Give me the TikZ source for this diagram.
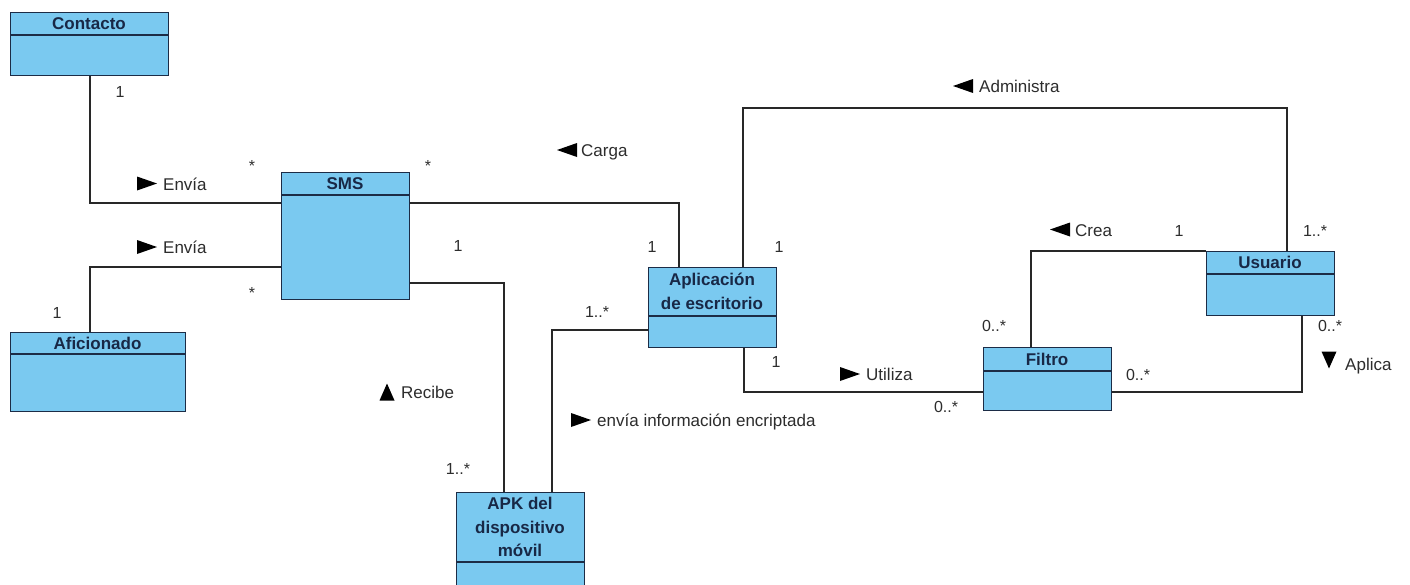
\documentclass[tikz,border=0pt]{standalone}
\usepackage{fontspec}
\setmainfont{Liberation Sans}
\usetikzlibrary{calc}

\definecolor{clsfill}{RGB}{122,201,240}
\definecolor{clsline}{RGB}{28,44,70}
\definecolor{clstext}{RGB}{24,40,70}
\definecolor{wire}{RGB}{40,40,40}
\definecolor{lbl}{RGB}{45,45,45}

\tikzset{
  cls/.style={draw=clsline, fill=clsfill, line width=1.3pt, inner sep=0pt, anchor=north west},
  sepline/.style={draw=clsline, line width=1.3pt},
  ttl/.style={text=clstext, font=\fontsize{17}{23.5}\selectfont\bfseries, align=center, inner sep=0pt},
  assoc/.style={draw=wire, line width=1.3pt},
  rolename/.style={text=lbl, font=\fontsize{17}{20}\selectfont, inner sep=0pt, anchor=base west},
  mult/.style={text=lbl, font=\fontsize{16}{18}\selectfont, inner sep=0pt},
  tri right/.pic={\fill[black] (0,-7) -- (20,0) -- (0,7) -- cycle;},
  tri left/.pic={\fill[black] (0,-7) -- (-20,0) -- (0,7) -- cycle;},
  tri up/.pic={\fill[black] (-7.5,8.5) -- (0,-8.5) -- (7.5,8.5) -- cycle;},
  tri down/.pic={\fill[black] (-7.5,-8.5) -- (0,8.5) -- (7.5,-8.5) -- cycle;},
}

\begin{document}
\begin{tikzpicture}[x=1pt, y=-1pt]
\clip (0,0) rectangle (1410,584);
\fill[white] (0,0) rectangle (1410,584);

% ---- classes ----
\node[cls, minimum width=158, minimum height=63] (contacto) at (10,12) {};
\draw[sepline] (contacto.west |- 0,35) -- (contacto.east |- 0,35);
\node[ttl] (contacto-t) at (89,23.5) {Contacto};

\node[cls, minimum width=175, minimum height=79] (aficionado) at (10,332) {};
\draw[sepline] (aficionado.west |- 0,354) -- (aficionado.east |- 0,354);
\node[ttl] (aficionado-t) at (97.5,343) {Aficionado};

\node[cls, minimum width=128, minimum height=127] (sms) at (281,172) {};
\draw[sepline] (sms.west |- 0,195) -- (sms.east |- 0,195);
\node[ttl] (sms-t) at (345,183.5) {SMS};

\node[cls, minimum width=128, minimum height=80] (aplic) at (648,267) {};
\draw[sepline] (aplic.west |- 0,316) -- (aplic.east |- 0,316);
\node[ttl] (aplic-t) at (712,291.5) {Aplicación\\de escritorio};

\node[cls, minimum width=128, minimum height=110] (apk) at (456,492) {};
\draw[sepline] (apk.west |- 0,562) -- (apk.east |- 0,562);
\node[ttl] (apk-t) at (520,527) {APK del\\dispositivo\\móvil};

\node[cls, minimum width=128, minimum height=63] (filtro) at (983,347) {};
\draw[sepline] (filtro.west |- 0,371) -- (filtro.east |- 0,371);
\node[ttl] (filtro-t) at (1047,359) {Filtro};

\node[cls, minimum width=128, minimum height=64] (usuario) at (1206,251) {};
\draw[sepline] (usuario.west |- 0,274) -- (usuario.east |- 0,274);
\node[ttl] (usuario-t) at (1270,262.5) {Usuario};

% ---- associations ----
\draw[assoc] (contacto.south -| 90,0) |- (sms.west |- 0,203);
\draw[assoc] (aficionado.north -| 90,0) |- (sms.west |- 0,267);
\draw[assoc] (sms.east |- 0,203) -| (aplic.north -| 679,0);
\draw[assoc] (sms.east |- 0,283) -| (apk.north -| 504,0);
\draw[assoc] (aplic.west |- 0,330) -| (apk.north -| 552,0);
\draw[assoc] (aplic.north -| 743,0) -- (743,108) -| (usuario.north -| 1287,0);
\draw[assoc] (aplic.south -| 744,0) |- (filtro.west |- 0,392);
\draw[assoc] (filtro.north -| 1031,0) |- (usuario.north west);
\draw[assoc] (filtro.east |- 0,392) -| (usuario.south -| 1302,0);

% ---- association names ----
\pic at (137,183.5) {tri right};
\node[rolename] (envia1) at (163,190) {Envía};
\pic at (137,247) {tri right};
\node[rolename] (envia2) at (163,253.5) {Envía};
\pic at (577,150) {tri left};
\node[rolename] (carga) at (581,156.5) {Carga};
\pic at (973,86) {tri left};
\node[rolename] (administra) at (979,92.5) {Administra};
\pic at (1070,229.5) {tri left};
\node[rolename] (crea) at (1075,236) {Crea};
\pic at (840,374) {tri right};
\node[rolename] (utiliza) at (866,380.5) {Utiliza};
\pic at (571,420) {tri right};
\node[rolename] (encriptada) at (597,426.5) {envía información encriptada};
\pic at (387,392) {tri up};
\node[rolename] (recibe) at (401,398) {Recibe};
\pic at (1329,360) {tri down};
\node[rolename] (aplica) at (1345,370) {Aplica};

% ---- multiplicities ----
\node[mult] (m1) at (120,92) {1};
\node[mult] (m2) at (252,166) {*};
\node[mult] (m3) at (57,313) {1};
\node[mult] (m4) at (252,293) {*};
\node[mult] (m5) at (428,166) {*};
\node[mult] (m6) at (458,246) {1};
\node[mult] (m7) at (652,247) {1};
\node[mult] (m8) at (779,247) {1};
\node[mult] (m9) at (597,312) {1..*};
\node[mult] (m10) at (458,469) {1..*};
\node[mult] (m11) at (776,362) {1};
\node[mult] (m12) at (946,407) {0..*};
\node[mult] (m13) at (994,326) {0..*};
\node[mult] (m14) at (1179,231) {1};
\node[mult] (m15) at (1315,231) {1..*};
\node[mult] (m16) at (1330,326) {0..*};
\node[mult] (m17) at (1138,375) {0..*};
\end{tikzpicture}
\end{document}
